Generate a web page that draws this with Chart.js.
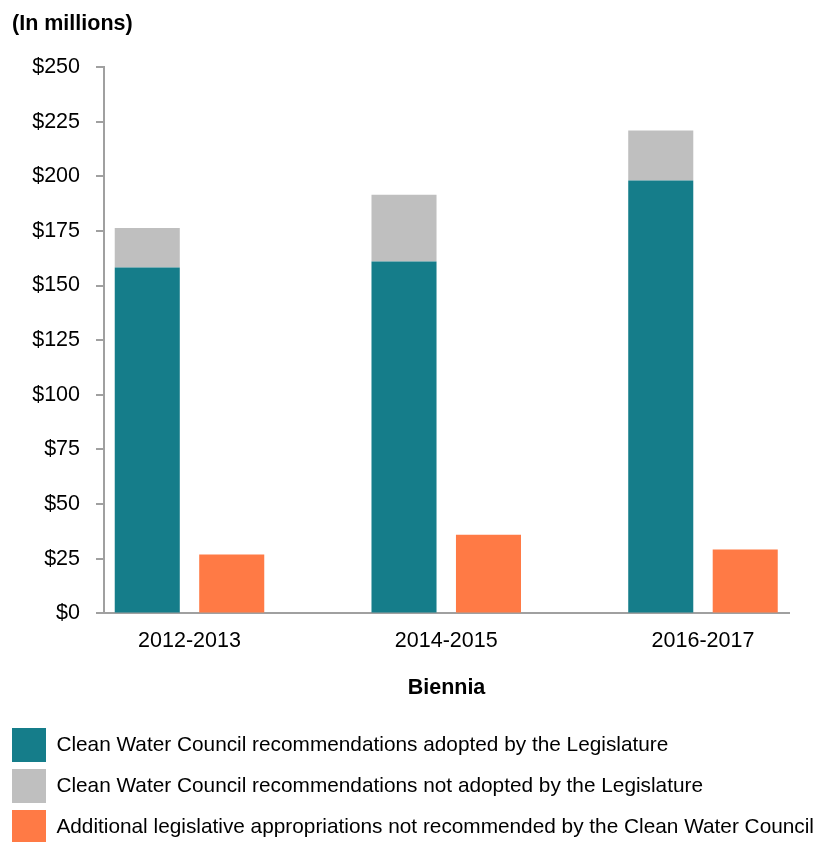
<!DOCTYPE html>
<html>
<head>
<meta charset="utf-8">
<script src="https://cdn.jsdelivr.net/npm/chart.js@4/dist/chart.umd.min.js"></script>
<style>
    html, body { margin: 0; padding: 0; background: #fff; overflow: hidden; }
    #wrap { position: relative; width: 817px; height: 842px; }
    #units {
        position: absolute; left: 12px; top: 11px;
        font: bold 21.5px 'Liberation Sans', Arial, sans-serif;
        color: #000;
    }
    canvas { position: absolute; left: 0; top: 0; }
</style>
</head>
<body>
<div id="wrap">
    <canvas id="myChart" width="817" height="842"></canvas>
    <div id="units">(In millions)</div>
</div>
<script>
const categories = ['2012-2013', '2014-2015', '2016-2017']
const adopted = [158.3, 161.0, 198.1]
const notAdopted = [18.0, 30.6, 22.9]
const additional = [26.9, 36.0, 29.2]
const yTicks = [0, 25, 50, 75, 100, 125, 150, 175, 200, 225, 250]

const fontName = "'Liberation Sans', Arial, sans-serif"
const axisGray = '#a0a0a0'

const toPoints = values => values.map((v, i) => ({x: i, y: v}))

let ctx = document.querySelector('#myChart').getContext('2d');

let myChart = new Chart(ctx, {
    type: 'bar',
    data: {
        datasets: [{
            label: 'Clean Water Council recommendations adopted by the Legislature',
            backgroundColor: '#157d8a',
            stack: 'council',
            data: toPoints(adopted)
        }, {
            label: 'Clean Water Council recommendations not adopted by the Legislature',
            backgroundColor: '#bfbfbf',
            stack: 'council',
            data: toPoints(notAdopted)
        }, {
            label: 'Additional legislative appropriations not recommended by the Clean Water Council',
            backgroundColor: '#ff7a45',
            stack: 'extra',
            data: toPoints(additional)
        }]
    },
    options: {
        responsive: false,
        animation: false,
        categoryPercentage: 0.658,
        barPercentage: 0.77,
        layout: {
            padding: {left: 5, right: 0, top: 67, bottom: -12}
        },
        plugins: {
            tooltip: {enabled: false},
            legend: {
                position: 'bottom',
                align: 'start',
                labels: {
                    boxWidth: 34,
                    boxHeight: 34,
                    padding: 7,
                    color: '#000',
                    font: {family: fontName, size: 20.8}
                }
            }
        },
        scales: {
            x: {
                type: 'linear',
                offset: false,
                bounds: 'data',
                min: -0.333,
                max: 2.335,
                afterBuildTicks: axis => {
                    axis.ticks = categories.map((c, i) => ({value: i}))
                },
                afterFit: axis => {
                    axis.paddingRight = 28
                },
                grid: {display: false, drawTicks: false},
                border: {display: true, color: axisGray, width: 2},
                ticks: {
                    color: '#000',
                    padding: 15,
                    maxRotation: 0,
                    font: {family: fontName, size: 21.5},
                    callback: value => categories[value]
                },
                title: {
                    display: true,
                    text: 'Biennia',
                    color: '#000',
                    font: {family: fontName, size: 21.5, weight: 'bold'},
                    padding: {top: 6, bottom: 20}
                }
            },
            y: {
                stacked: true,
                min: 0,
                max: 250,
                afterBuildTicks: axis => {
                    axis.ticks = yTicks.map(v => ({value: v}))
                },
                afterFit: axis => {
                    axis.width = 99
                },
                grid: {
                    drawOnChartArea: false,
                    drawTicks: true,
                    tickLength: 8,
                    color: axisGray,
                    lineWidth: 2
                },
                border: {display: true, color: axisGray, width: 2},
                ticks: {
                    color: '#000',
                    padding: 16,
                    font: {family: fontName, size: 21.5},
                    callback: value => '$' + value
                }
            }
        }
    }
});
</script>
</body>
</html>
